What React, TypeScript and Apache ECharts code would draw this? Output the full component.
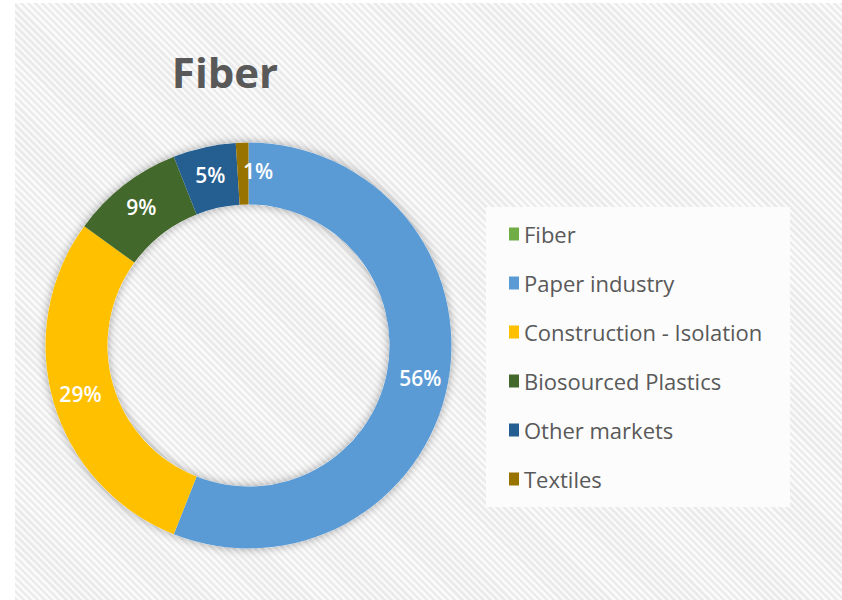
import React, { useEffect, useRef } from "react";
import * as echarts from "echarts";

const titleText = "Fiber";
const categories = [
  "Fiber",
  "Paper industry",
  "Construction - Isolation",
  "Biosourced Plastics",
  "Other markets",
  "Textiles",
];
const values = [0, 56, 29, 9, 5, 1];
const colors = ["#70AD47", "#5B9BD5", "#FFC000", "#43682B", "#255E91", "#997300"];

export default function App() {
  const ref = useRef<HTMLDivElement>(null);
  useEffect(() => {
    if (!ref.current) return;
    const chart = echarts.init(ref.current, undefined, { renderer: "svg" });
    const data = categories.map((name, i) => {
      const item: any = { name, value: values[i], itemStyle: { color: colors[i] } };
      if (values[i] === 0) item.label = { show: false };
      if (name === "Textiles") item.label = { padding: [0, 0, 0, 30] };
      return item;
    });
    chart.setOption({
      animation: false,
      color: colors,
      graphic: [
        {
          type: "rect",
          shape: { x: 486, y: 207, width: 304, height: 300 },
          style: { fill: "#fcfcfc" },
          z: -10,
        },
        {
          type: "text",
          x: 225,
          y: 71,
          style: {
            text: titleText,
            fill: "#595959",
            font: "bold 42px 'Open Sans', sans-serif",
            textAlign: "center",
            textVerticalAlign: "middle",
          },
        },
      ],
      legend: {
        orient: "vertical",
        left: 504,
        top: 217,
        data: categories,
        icon: "rect",
        itemWidth: 10,
        itemHeight: 13,
        itemGap: 25,
        textStyle: {
          color: "#595959",
          fontSize: 22,
          fontFamily: "'Open Sans', sans-serif",
          lineHeight: 24,
        },
        selectedMode: false,
      },
      series: [
        {
          type: "pie",
          name: "ring shadow",
          silent: true,
          center: [248.5, 345.5],
          radius: [141, 203],
          z: 1,
          label: { show: false },
          labelLine: { show: false },
          itemStyle: {
            color: "#ffffff",
            shadowBlur: 10,
            shadowColor: "rgba(0,0,0,0.35)",
          },
          data: [{ name: "__bg", value: 1 }],
        },
        {
          type: "pie",
          name: "Markets",
          center: [248.5, 345.5],
          radius: [141, 203],
          startAngle: 90,
          clockwise: true,
          z: 2,
          label: {
            show: true,
            position: "inside",
            formatter: "{d}%",
            color: "#ffffff",
            fontSize: 21,
            fontWeight: 600,
            fontFamily: "'Open Sans', sans-serif",
            textBorderWidth: 0,
          },
          labelLine: { show: false },
          itemStyle: { borderWidth: 0 },
          data,
        },
      ],
    });
    return () => chart.dispose();
  }, []);

  return (
    <div style={{ position: "absolute", left: 0, top: 0, width: 842, height: 600, background: "#ffffff" }}>
      <div
        style={{
          position: "absolute",
          left: 15,
          top: 3,
          width: 827,
          height: 597,
          background:
            "repeating-linear-gradient(45deg, #ebebeb 0px, #ebebeb 2.5px, #fafafa 2.5px, #fafafa 5px)",
        }}
      />
      <div ref={ref} style={{ position: "absolute", left: 0, top: 0, width: 842, height: 600 }} />
    </div>
  );
}
